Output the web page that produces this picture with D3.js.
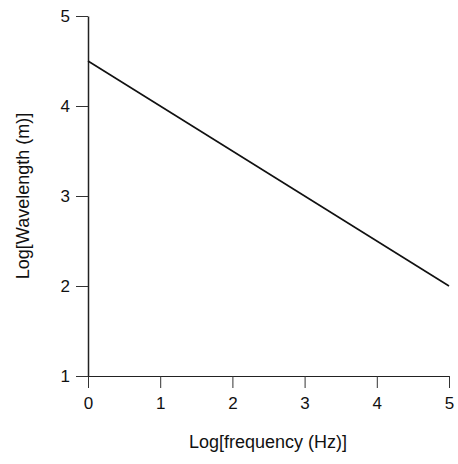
<!DOCTYPE html>
<html>
<head>
<meta charset="utf-8">
<script src="https://cdn.jsdelivr.net/npm/d3@7"></script>
<style>
  body { margin: 0; background: #fff; }
  text { font-family: "Liberation Sans", Arial, sans-serif; fill: #111; }
</style>
</head>
<body>
<div id="chart"></div>
<script>
const logFreq = [0, 5];
const logWave = [4.5, 2];
const xTicks = [0, 1, 2, 3, 4, 5];
const yTicks = [1, 2, 3, 4, 5];

const width = 458, height = 464;
const margin = { top: 16, right: 9, bottom: 88, left: 88 };

const svg = d3.select('#chart')
    .append('svg')
    .attr('width', width)
    .attr('height', height);

const x = d3.scaleLinear().domain([0, 5]).range([margin.left, width - margin.right]);
const y = d3.scaleLinear().domain([1, 5]).range([height - margin.bottom, margin.top]);

// x axis
const gx = svg.append('g')
    .attr('transform', `translate(0,${height - margin.bottom})`)
    .call(d3.axisBottom(x).tickValues(xTicks).tickFormat(d3.format('d'))
        .tickSize(12).tickPadding(7).tickSizeOuter(0));
gx.select('.domain').attr('stroke', '#222').attr('stroke-width', 1.2);
gx.selectAll('.tick line').attr('stroke', '#333');
gx.selectAll('.tick text').style('font-size', '17px').attr('dy', '0.85em');

// y axis
const gy = svg.append('g')
    .attr('transform', `translate(${margin.left},0)`)
    .call(d3.axisLeft(y).tickValues(yTicks).tickFormat(d3.format('d'))
        .tickSize(12).tickPadding(6).tickSizeOuter(0));
gy.select('.domain').attr('stroke', '#222').attr('stroke-width', 1.5);
gy.selectAll('.tick line').attr('stroke', '#333');
gy.selectAll('.tick text').style('font-size', '17px');

// line
const line = d3.line().x((d, i) => x(logFreq[i])).y(d => y(d));
svg.append('path')
    .datum(logWave)
    .attr('d', line)
    .attr('fill', 'none')
    .attr('stroke', '#111')
    .attr('stroke-width', 1.6);

// titles
svg.append('text')
    .attr('x', 268)
    .attr('y', 448)
    .attr('text-anchor', 'middle')
    .style('font-size', '18px')
    .text('Log[frequency (Hz)]');

svg.append('text')
    .attr('transform', `translate(29,196) rotate(-90)`)
    .attr('text-anchor', 'middle')
    .style('font-size', '18px')
    .text('Log[Wavelength (m)]');
</script>
</body>
</html>
